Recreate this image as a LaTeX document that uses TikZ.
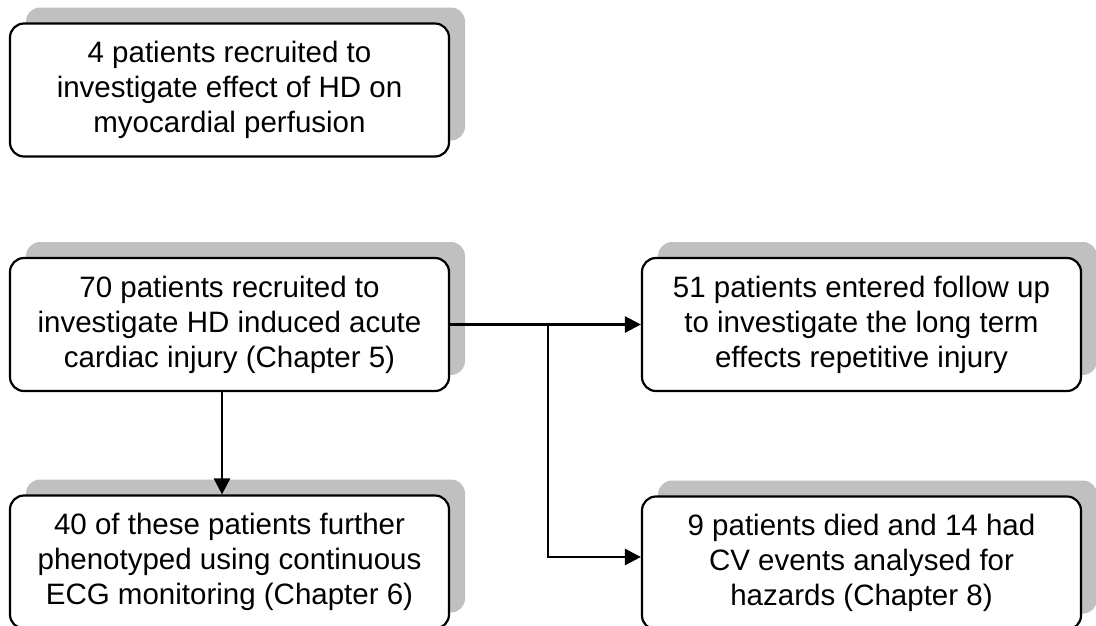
\documentclass[tikz,border=0pt]{standalone}
\usepackage{fontspec}
\setmainfont{Liberation Sans}
\usetikzlibrary{arrows.meta,shadows}
\definecolor{shadowgray}{RGB}{192,192,192}
\tikzset{
  box/.style={draw=black, line width=2.2pt, fill=white, rounded corners=14pt,
    minimum width=439pt, minimum height=133pt, inner sep=0pt,
    align=center, font=\fontsize{29.5}{35}\selectfont,
    drop shadow={shadow xshift=16pt, shadow yshift=16pt, fill=shadowgray, opacity=1}},
  conn/.style={line width=2.6pt, -{Triangle[length=16pt,width=16pt]}},
}
\begin{document}
\begin{tikzpicture}[x=1pt,y=-1pt]
\useasboundingbox (0,0) rectangle (1096,625);
\node[box] (b1) at (229.5,90) {4 patients recruited to\\investigate effect of HD on\\myocardial perfusion};
\node[box] (b2) at (229.5,324.5) {70 patients recruited to\\investigate HD induced acute\\cardiac injury (Chapter 5)};
\node[box] (b3) at (229.5,562) {40 of these patients further\\phenotyped using continuous\\ECG monitoring (Chapter 6)};
\node[box] (b4) at (861.5,324.5) {51 patients entered follow up\\to investigate the long term\\effects repetitive injury};
\node[box] (b5) at (861.5,563) {9 patients died and 14 had\\CV events analysed for\\hazards (Chapter 8)};
\coordinate (j) at (548,324.5);
\draw[conn] (b2.east) -- (b4.west);
\draw[conn] (j) |- ([yshift=6pt]b5.west);
\draw[conn] ([xshift=-7.5pt]b2.south) -- ([xshift=-7.5pt]b3.north);
\end{tikzpicture}
\end{document}
